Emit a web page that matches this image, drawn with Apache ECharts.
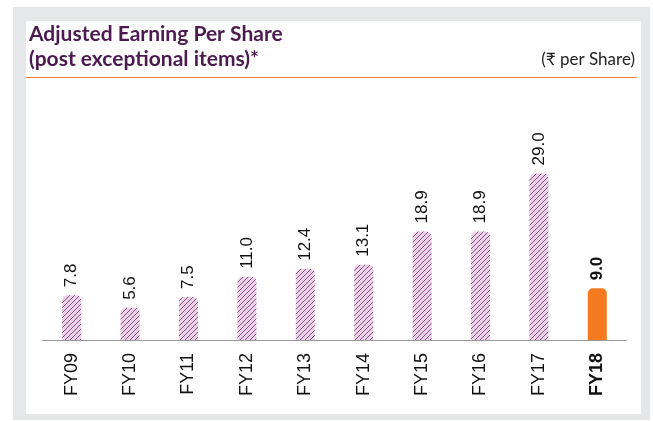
<!DOCTYPE html>
<html><head><meta charset="utf-8">
<script src="https://cdn.jsdelivr.net/npm/echarts@6/dist/echarts.min.js"></script>
<style>
html,body{margin:0;padding:0;background:#fff;}
#wrap{position:absolute;left:0;top:0;width:653px;height:421px;background:#fff;}
#bg{position:absolute;left:13px;top:7px;width:637px;height:413px;background:#e6e7e8;}
#panel{position:absolute;left:26px;top:21px;width:615px;height:393px;background:#fff;}
#chart{position:absolute;left:0;top:0;width:653px;height:421px;}
</style></head>
<body><div id="wrap"><div id="bg"></div><div id="panel"></div><div id="chart"></div></div>
<script>
const categories = ['FY09','FY10','FY11','FY12','FY13','FY14','FY15','FY16','FY17','FY18'];
const values = [7.8, 5.6, 7.5, 11.0, 12.4, 13.1, 18.9, 18.9, 29.0, 9.0];
const highlight = 'FY18';

function hatch(){
  const c = document.createElement('canvas');
  c.width = 5; c.height = 5;
  const g = c.getContext('2d');
  g.fillStyle = '#ecd3e8'; g.fillRect(0,0,5,5);
  g.strokeStyle = '#8a4f86'; g.lineWidth = 1;
  g.beginPath();
  g.moveTo(-1,6); g.lineTo(6,-1);
  g.moveTo(-1,1); g.lineTo(1,-1);
  g.moveTo(4,6); g.lineTo(6,4);
  g.stroke();
  return c;
}
const pat = {image: hatch(), repeat: 'repeat'};
const F = "'Liberation Sans', Arial, sans-serif";

const chart = echarts.init(document.getElementById('chart'), null, {renderer:'canvas'});
chart.setOption({
  backgroundColor: 'transparent',
  animation: false,
  title: [{
    text: 'Adjusted Earning Per Share\n(post exceptional items)*',
    left: 29, top: 22, padding: 0,
    textStyle: {fontFamily: 'Lato', fontWeight: 'bold', fontSize: 21, color: '#4b1a4e', lineHeight: 25}
  },{
    text: '(₹ per Share)',
    right: 18, top: 50, padding: 0,
    textStyle: {fontFamily: 'Lato', fontWeight: 'normal', fontSize: 17, color: '#222', lineHeight: 20}
  }],
  graphic: [{
    type: 'line', shape: {x1: 26, y1: 77.5, x2: 637, y2: 77.5},
    style: {stroke: '#f07d2e', lineWidth: 1.2}
  }],
  grid: {left: 42.5, right: 26.5, top: 139, height: 201},
  xAxis: {
    type: 'category', data: categories,
    axisLine: {lineStyle: {color: '#999', width: 1.2}},
    axisTick: {show: false},
    axisLabel: {
      rotate: 90, margin: 13, fontFamily: F, fontSize: 18, color: '#111',
      formatter: v => v === highlight ? '{b|' + v + '}' : v,
      rich: {b: {fontWeight: 'bold', fontFamily: F, fontSize: 18, color: '#111'}}
    }
  },
  yAxis: {type: 'value', min: 0, max: 35, show: false, splitLine: {show: false}},
  series: [{
    type: 'bar', barWidth: 19,
    data: values.map((v, i) => ({
      value: v,
      itemStyle: {color: categories[i] === highlight ? '#f47a20' : pat, borderRadius: [5,5,0,0]},
      label: categories[i] === highlight ? {fontWeight: 'bold'} : {}
    })),
    label: {
      show: true, position: 'top', rotate: 90, align: 'left', verticalAlign: 'middle',
      distance: 8, fontFamily: F, fontSize: 17, color: '#111',
      formatter: p => p.value.toFixed(1)
    }
  }]
});
</script></body></html>
